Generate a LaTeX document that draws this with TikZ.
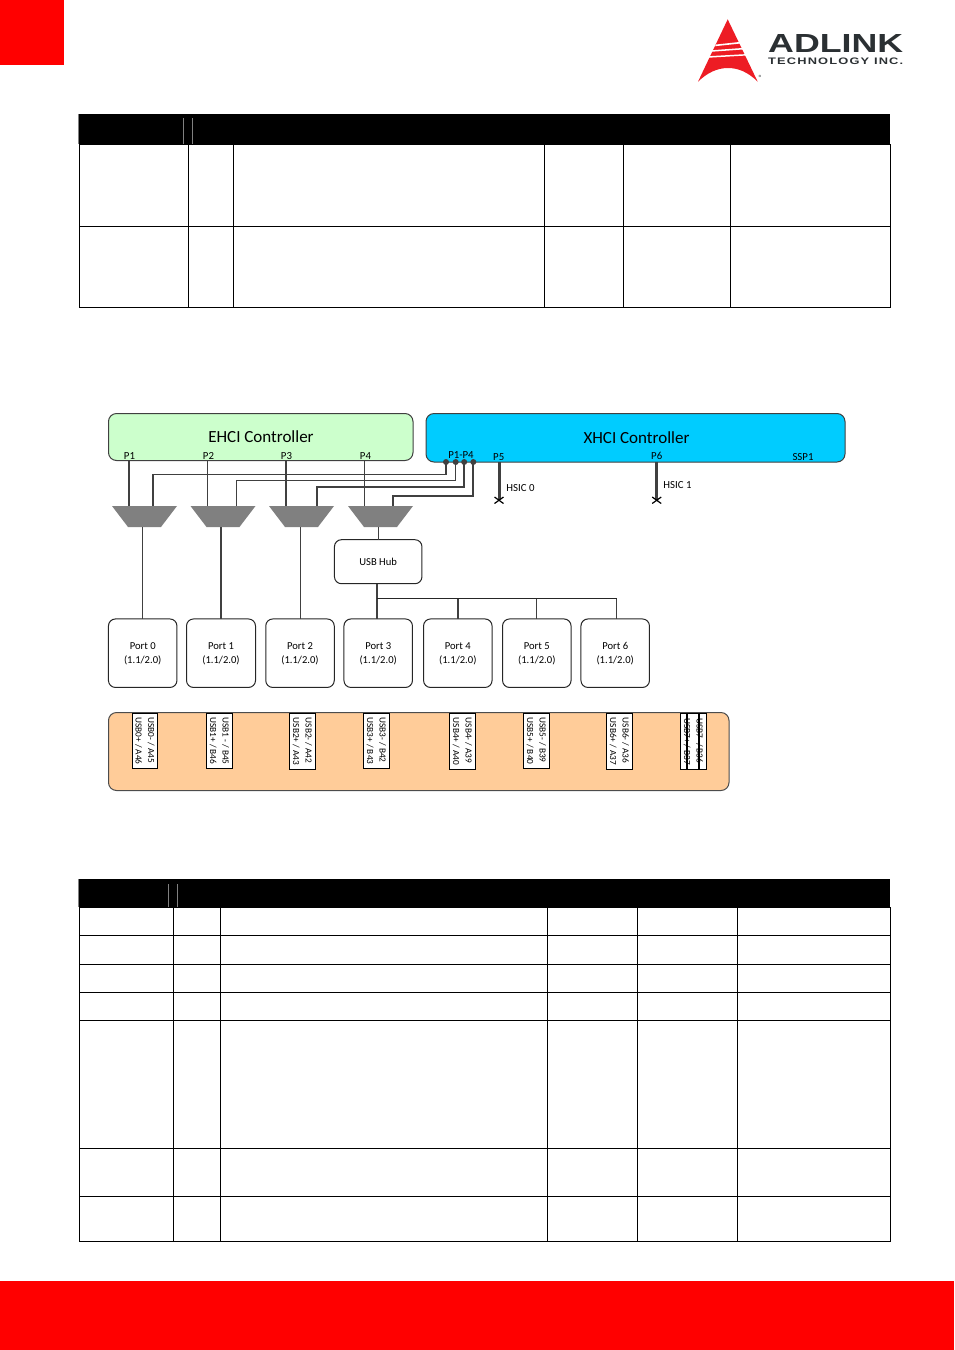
\documentclass[tikz,border=0pt]{standalone}
\usepackage{fontspec}
\usepackage{graphicx}
\setmainfont{Carlito}
\newfontfamily\logofont{Liberation Sans}
\definecolor{wirec}{HTML}{404040}
\definecolor{ehcic}{HTML}{CCFFCC}
\definecolor{xhcic}{HTML}{00CCFF}
\definecolor{bandc}{HTML}{FFCC99}
\definecolor{muxc}{HTML}{808080}
\definecolor{logor}{HTML}{ED1C24}
\definecolor{logog}{HTML}{2B3033}
\newcommand{\porttext}[1]{\raisebox{-.6pt}{\parbox{60pt}{\centering\strut Port #1\strut\\\strut (1.1/2.0)\strut}}}
\tikzset{
  ctrl/.style={draw=black!75,line width=1pt,rounded corners=8pt,inner sep=0,outer sep=0},
  portbox/.style={draw=black!85,line width=1pt,rounded corners=7pt,inner sep=0,outer sep=0,align=center,font=\fontsize{10.6}{14}\selectfont},
  mux/.style={rectangle,minimum width=65pt,minimum height=21pt,inner sep=0,outer sep=0},
  thin wire/.style={draw=wirec,line width=.9pt},
  mid wire/.style={draw=wirec,line width=1.5pt},
  thick wire/.style={draw=wirec,line width=2.4pt},
  hsic/.style={draw=wirec,line width=3pt},
  xmark/.style={draw=black,line width=1.2pt},
  pinlabel/.style={inner sep=0,text height=7pt,text depth=0pt,font=\fontsize{10.8}{11}\selectfont},
  dotc/.style={circle,fill=wirec,inner sep=0,minimum size=6pt,outer sep=0},
  usb/.style={draw=black,fill=white,line width=1pt,rotate=-90,inner sep=0,outer sep=0,minimum width=55.5pt,minimum height=25.5pt,align=left,font=\fontsize{9.3}{12.5}\selectfont},
  grid/.style={draw=black,line width=1pt},
}
\begin{document}
\begin{tikzpicture}[x=1pt,y=-1pt]
\useasboundingbox (0,0) rectangle (954,1350);
% page furniture
\fill[red] (0,0) rectangle (64,65);
\fill[red] (0,1281) rectangle (954,1350);
% logo
\fill[logor] (727.7,19.3) -- (757.7,81.7) .. controls (748,72) and (738,68) .. (728,68) .. controls (717,68) and (707,73) .. (698,81.7) -- cycle;
\fill[white] (716,44.5) -- (742,41.7) -- (742.6,43.3) -- (715,46.2) -- cycle;
\fill[white] (712,50.2) -- (745,47.8) -- (745.6,49.3) -- (711,51.8) -- cycle;
\fill[white] (708,56.2) -- (748,54) -- (748.6,55.4) -- (707,57.8) -- cycle;
\node[inner sep=0,anchor=west,text=logog] (brand) at (768,43) {\resizebox{135pt}{18pt}{\logofont\bfseries ADLINK}};
\node[inner sep=0,anchor=west,text=logog] (tech) at (768,61.6) {\resizebox{135pt}{6.6pt}{\logofont\bfseries\addfontfeature{LetterSpace=9}TECHNOLOGY INC.}};
\node[inner sep=0,text=logog,font=\fontsize{7.5}{8}\selectfont] (regd) at (760.5,78) {®};
% table 1
\fill[black] (79,114) rectangle (890,144.5);
\draw[gray,line width=.7pt] (78.6,114) -- (78.6,144);
\draw[gray,line width=.7pt] (183.5,118) -- (183.5,144) (192.5,118) -- (192.5,144);
\foreach \x in {79.5,188.5,233.5,544.5,623.5,730.5,890.5} \draw[grid] (\x,144) -- (\x,308);
\foreach \y in {226.5,307.5} \draw[grid] (79,\y) -- (891,\y);
% table 2
\fill[black] (79,879) rectangle (890,907.5);
\draw[gray,line width=.7pt] (78.6,879) -- (78.6,907);
\draw[gray,line width=.7pt] (168.5,884) -- (168.5,907) (177.5,884) -- (177.5,907);
\foreach \x in {79.5,173.5,220.5,547.5,637.5,737.5,890.5} \draw[grid] (\x,907) -- (\x,1242);
\foreach \y in {935.5,964.5,992.5,1020.5,1148.5,1196.5,1241.5} \draw[grid] (79,\y) -- (891,\y);
% controllers
\node[ctrl,fill=ehcic,minimum width=304.5pt,minimum height=47pt] (ehci) at (260.75,437) {};
\node[ctrl,fill=xhcic,minimum width=419pt,minimum height=48.5pt] (xhci) at (635.5,437.75) {};
\node[inner sep=0,font=\fontsize{17}{19}\selectfont] (ehcit) at (261,436.5) {EHCI Controller};
\node[inner sep=0,font=\fontsize{17}{19}\selectfont] (xhcit) at (636.5,437.5) {XHCI Controller};
\node[pinlabel] (lp1) at (129.5,455.5) {P1};
\node[pinlabel] (lp2) at (208.5,455.5) {P2};
\node[pinlabel] (lp3) at (286.5,455.5) {P3};
\node[pinlabel] (lp4) at (365.5,455.5) {P4};
\node[pinlabel] (lx14) at (461,454.5) {P1-P4};
\node[pinlabel] (lx5) at (498.7,456.5) {P5};
\node[pinlabel] (lx6) at (656.7,455.5) {P6};
\node[pinlabel] (lssp) at (803,456.5) {SSP1};
\node[pinlabel] (lh0) at (520.5,488) {HSIC 0};
\node[pinlabel] (lh1) at (677.5,484.5) {HSIC 1};
% muxes
\node[mux] (m1) at (144.5,516.5) {};
\node[mux] (m2) at (223,516.5) {};
\node[mux] (m3) at (301.5,516.5) {};
\node[mux] (m4) at (380.5,516.5) {};
\foreach \m in {m1,m2,m3,m4}
  \fill[muxc] (\m.north west) -- (\m.north east) -- ([xshift=-16pt]\m.south east) -- ([xshift=16pt]\m.south west) -- cycle;
% hub and ports
\node[portbox,minimum width=87.5pt,minimum height=44pt] (hub) at (378.2,561.7) {\raisebox{-1.8pt}{USB Hub}};
\node[portbox,minimum width=68.5pt,minimum height=68.5pt] (p0) at (142.7,653.2) {\porttext{0}};
\node[portbox,minimum width=69pt,minimum height=68.5pt] (p1) at (221,653.2) {\porttext{1}};
\node[portbox,minimum width=68.5pt,minimum height=68.5pt] (p2) at (300,653.2) {\porttext{2}};
\node[portbox,minimum width=68.5pt,minimum height=68.5pt] (p3) at (378.2,653.2) {\porttext{3}};
\node[portbox,minimum width=68.5pt,minimum height=68.5pt] (p4) at (457.8,653.2) {\porttext{4}};
\node[portbox,minimum width=68.5pt,minimum height=68.5pt] (p5) at (536.8,653.2) {\porttext{5}};
\node[portbox,minimum width=68.5pt,minimum height=68.5pt] (p6) at (615.2,653.2) {\porttext{6}};
% EHCI to mux
\coordinate (e1) at (129,460.5);
\coordinate (e2) at (207,460.5);
\coordinate (e3) at (286,460.5);
\coordinate (e4) at (364.5,460.5);
\draw[thick wire] (e1) -- (e1 |- m1.north);
\draw[thin wire] (e2) -- (e2 |- m2.north);
\draw[thick wire] (e3) -- (e3 |- m3.north);
\draw[thin wire] (e4) -- (e4 |- m4.north);
% XHCI to mux
\node[dotc] (d1) at (446,462) {};
\node[dotc] (d2) at (455.7,462) {};
\node[dotc] (d3) at (464.2,462) {};
\node[dotc] (d4) at (473.3,462) {};
\coordinate (t1) at (152.8,474.5);
\coordinate (t2) at (236,480);
\coordinate (t3) at (316.8,487);
\coordinate (t4) at (392.8,496);
\draw[mid wire] (d1.center) |- (t1) -- (t1 |- m1.north);
\draw[thin wire] (d2.center) |- (t2) -- (t2 |- m2.north);
\draw[mid wire,line width=1.9pt] (d3.center) |- (t3) -- (t3 |- m3.north);
\draw[mid wire,line width=1.9pt] (d4.center) |- (t4) -- (t4 |- m4.north);
% HSIC stubs
\coordinate (h0) at (499,500);
\coordinate (h1) at (656.7,500);
\draw[hsic] (h0 |- xhci.south) -- (h0);
\draw[hsic] (h1 |- xhci.south) -- (h1);
\draw[xmark] (494.5,497) -- (503.5,503.5) (494.5,503.5) -- (503.5,497);
\draw[xmark] (652.2,497) -- (661.2,503.5) (652.2,503.5) -- (661.2,497);
% mux to ports
\draw[thin wire] (m1.south -| p0.north) -- (p0.north);
\draw[thick wire,line width=1.9pt] (m2.south -| p1.north) -- (p1.north);
\draw[thin wire] (m3.south -| p2.north) -- (p2.north);
\draw[thin wire] (m4.south -| hub.north) -- (hub.north);
% hub to ports
\coordinate (b0) at (377,598.5);
\draw[mid wire] (b0 |- hub.south) -- (b0 |- p3.north);
\draw[thin wire,draw=black!85] (b0) -- (616.7,598.5);
\draw[mid wire] (458,598.5) -- (458,619);
\draw[thin wire] (536.7,598.5) -- (536.7,619);
\draw[thin wire] (616.7,598.5) -- (616.7,619);
% pin band
\node[ctrl,fill=bandc,draw=black!70,minimum width=620.5pt,minimum height=78pt] (band) at (418.75,751.5) {};
\node[usb] (u0) at (145,741) {USB0- / A45\\USB0+ / A46};
\node[usb] (u1) at (219.5,741) {USB1 - / B45\\USB1+ / B46};
\node[usb] (u2) at (302.3,741.5) {USB2- / A42\\USB2+ / A43};
\node[usb] (u3) at (376.3,741) {USB3- / B42\\USB3+ / B43};
\node[usb] (u4) at (462.3,741.5) {USB4- / A39\\USB4+ / A40};
\node[usb] (u5) at (536.3,741) {USB5- / B39\\USB5+ / B40};
\node[usb] (u6) at (619.3,741.5) {USB6- / A36\\USB6+ / A37};
\node[usb] (u7) at (693.3,741.5) {USB7- / B36\\USB7+ / B37};
\draw[black,line width=1.9pt] (686.7,713) -- (686.7,769.5) (699.3,713) -- (699.3,769.5);
\end{tikzpicture}
\end{document}
